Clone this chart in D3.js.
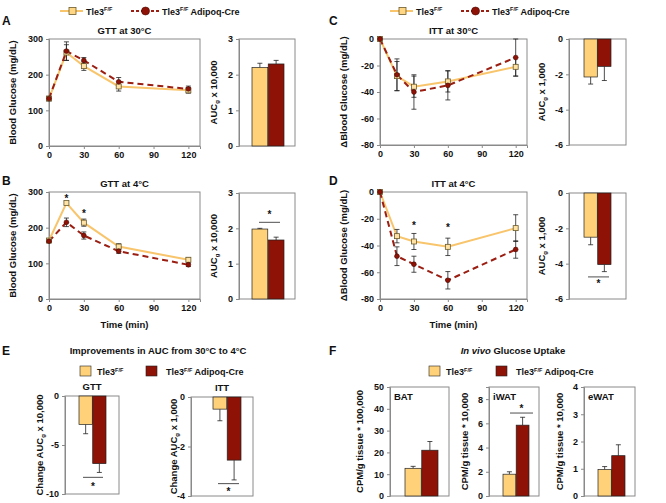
<!DOCTYPE html>
<html><head><meta charset="utf-8">
<script src="https://cdn.jsdelivr.net/npm/d3@7"></script>
<style>body{margin:0;background:#fff}text{font-family:"Liberation Sans",Arial,sans-serif;font-weight:bold;fill:#111}</style>
</head><body><script>
// ---------------- DATA ----------------
const times=[0,15,30,60,120];
const timeTicks=[0,30,60,90,120];
const groups=["Tle3F/F","Tle3F/F Adipoq-Cre"];

const gtt30Ctrl=[133,262,224,167,156], gtt30CtrlSe=[6,22,12,13,8];
const gtt30Ko=[133,266,240,180,160],   gtt30KoSe=[6,26,8,12,8];
const gtt4Ctrl=[164,269,214,147,110],  gtt4CtrlSe=[4,4,10,8,6];
const gtt4Ko=[162,215,178,134,96],     gtt4KoSe=[4,12,10,6,5];
const itt30Ctrl=[0,-28,-36,-32,-21],   itt30CtrlSe=[0,11,8,8,7];
const itt30Ko=[0,-27,-40,-35,-14],     itt30KoSe=[0,12,13,11,14];
const itt4Ctrl=[0,-33,-37,-41,-27],    itt4CtrlSe=[0,5,6,6.5,10];
const itt4Ko=[0,-48,-54,-66,-43],      itt4KoSe=[0,7,6,6.5,6.5];

const aucGtt30=[2.2,2.3],   aucGtt30Se=[0.12,0.1];
const aucGtt4=[1.98,1.67],  aucGtt4Se=[0.02,0.08];
const aucItt30=[-2.15,-1.55], aucItt30Se=[0.4,0.8];
const aucItt4=[-2.5,-4.05], aucItt4Se=[0.43,0.4];
const chgGtt=[-2.9,-6.9],   chgGttSe=[0.95,0.9];
const chgItt=[-0.49,-2.55], chgIttSe=[0.47,0.8];
const batVals=[12.7,21],    batSe=[0.9,4];
const iwatVals=[1.8,5.85],  iwatSe=[0.2,0.65];
const ewatVals=[0.97,1.48], ewatSe=[0.11,0.4];

// ---------------- STYLE ----------------
const W=666,H=503;
const YEL="#FFD27A", RED="#8E1206", YLINE="#F8C56C", RLINE="#9A1E12", FRAME="#8a8a8a";
const svg=d3.select("body").append("svg").attr("width",W).attr("height",H);

function styleAxis(a){
  a.select(".domain").attr("stroke",FRAME);
  a.selectAll(".tick line").attr("stroke",FRAME);
  a.selectAll(".tick text").style("font-size","9px").style("font-weight","bold").attr("fill","#111")
   .style("font-family",'"Liberation Sans",Arial,sans-serif');
}
function frame(g,x0,y0,x1,y1){
  g.append("rect").attr("x",x0).attr("y",y0).attr("width",x1-x0).attr("height",y1-y0)
   .attr("fill","none").attr("stroke",FRAME).attr("stroke-width",1);
}
function rotLabel(x,y,parts){
  const t=svg.append("text").attr("transform",`translate(${x},${y}) rotate(-90)`)
    .attr("text-anchor","middle").style("font-size","9.5px");
  parts.forEach(p=>{
    const s=t.append("tspan").text(p.t);
    if(p.sub){s.style("font-size","6px").attr("dy",2);} else if(p.after){s.attr("dy",-2);}
  });
  return t;
}
function tle(t,x,y,suffix){
  const tx=svg.append("text").attr("x",x).attr("y",y).style("font-size","9px");
  tx.append("tspan").text("Tle3");
  tx.append("tspan").text("F/F").style("font-size","5.5px").attr("dy",-3.5);
  if(suffix) tx.append("tspan").text(" "+suffix).attr("dy",3.5);
}
function star(x,y){svg.append("text").attr("x",x).attr("y",y).attr("text-anchor","middle").style("font-size","10px").text("*");}

function linePanel(o){
  const g=svg.append("g");
  const x=d3.scaleLinear().domain([0,130]).range([o.x0,o.x1]);
  const y=d3.scaleLinear().domain(o.yDomain).range([o.y1,o.y0]);
  frame(g,o.x0,o.y0,o.x1,o.y1);
  styleAxis(g.append("g").attr("transform",`translate(0,${o.y1})`)
    .call(d3.axisBottom(x).tickValues(timeTicks).tickSize(3).tickPadding(3).tickFormat(d=>d)));
  styleAxis(g.append("g").attr("transform",`translate(${o.x0},0)`)
    .call(d3.axisLeft(y).tickValues(o.yTicks).tickSize(3).tickPadding(3).tickFormat(d=>String(d))));
  const line=d3.line().x((d,i)=>x(times[i])).y(d=>y(d));
  g.append("path").datum(o.ctrl).attr("d",line).attr("fill","none").attr("stroke",YLINE).attr("stroke-width",2);
  g.append("path").datum(o.ko).attr("d",line).attr("fill","none").attr("stroke",RLINE).attr("stroke-width",2).attr("stroke-dasharray","6,4");
  [[o.ctrl,o.ctrlSe],[o.ko,o.koSe]].forEach(([v,s])=>{
    v.forEach((d,i)=>{
      if(!s[i]) return;
      const cx=x(times[i]);
      g.append("line").attr("x1",cx).attr("x2",cx).attr("y1",y(d-s[i])).attr("y2",y(d+s[i])).attr("stroke","#222").attr("stroke-width",0.8);
      [d-s[i],d+s[i]].forEach(e=>g.append("line").attr("x1",cx-2.5).attr("x2",cx+2.5).attr("y1",y(e)).attr("y2",y(e)).attr("stroke","#222").attr("stroke-width",0.8));
    });
  });
  g.selectAll(".sq").data(o.ctrl).enter().append("rect")
    .attr("x",(d,i)=>x(times[i])-2.5).attr("y",d=>y(d)-2.5).attr("width",5).attr("height",5)
    .attr("fill","#FFE3A6").attr("stroke","#6b5a2a").attr("stroke-width",0.8);
  g.selectAll(".ci").data(o.ko).enter().append("circle")
    .attr("cx",(d,i)=>x(times[i])).attr("cy",d=>y(d)).attr("r",2.4)
    .attr("fill",RED).attr("stroke","#4a0a04").attr("stroke-width",0.6);
  (o.stars||[]).forEach(s=>star(x(s[0]),y(s[1])+4));
  svg.append("text").attr("x",(o.x0+o.x1)/2).attr("y",o.y0-5).attr("text-anchor","middle").style("font-size","9.5px").text(o.title);
  if(o.xlabel) svg.append("text").attr("x",(o.x0+o.x1)/2).attr("y",o.y1+29).attr("text-anchor","middle").style("font-size","9.5px").text("Time (min)");
  svg.append("text").attr("transform",`translate(${o.x0-33},${(o.y0+o.y1)/2}) rotate(-90)`).attr("text-anchor","middle").style("font-size","9.5px").text(o.ylabel);
}

function barPanel(o){
  const g=svg.append("g");
  const y=d3.scaleLinear().domain(o.domain).range([o.y1,o.y0]);
  const xb=d3.scaleBand().domain(groups).range([o.bx0,o.bx1]).paddingInner(0.03);
  frame(g,o.x0,o.y0,o.x1,o.y1);
  styleAxis(g.append("g").attr("transform",`translate(${o.x0},0)`)
    .call(d3.axisLeft(y).tickValues(o.ticks).tickSize(3).tickPadding(3).tickFormat(d=>String(d))));
  groups.forEach((k,i)=>{
    const v=o.vals[i], s=o.se[i];
    const cx=xb(k)+xb.bandwidth()/2;
    const e=v>=0?v+s:v-s;
    g.append("line").attr("x1",cx).attr("x2",cx).attr("y1",y(v)).attr("y2",y(e)).attr("stroke","#222").attr("stroke-width",0.8);
    g.append("line").attr("x1",cx-2.5).attr("x2",cx+2.5).attr("y1",y(e)).attr("y2",y(e)).attr("stroke","#222").attr("stroke-width",0.8);
    g.append("rect").attr("x",xb(k)).attr("width",xb.bandwidth())
      .attr("y",Math.min(y(0),y(v))).attr("height",Math.abs(y(v)-y(0)))
      .attr("fill",i?RED:YEL).attr("stroke","#222").attr("stroke-width",0.7);
  });
  if(o.sig){
    g.append("line").attr("x1",o.sig.xa).attr("x2",o.sig.xb).attr("y1",y(o.sig.line)).attr("y2",y(o.sig.line)).attr("stroke","#222").attr("stroke-width",0.8);
    star((o.sig.xa+o.sig.xb)/2,y(o.sig.star)+4);
  }
  if(o.inner) svg.append("text").attr("x",o.x0+4).attr("y",o.y0+13).style("font-size","9.5px").text(o.inner);
  if(o.title) svg.append("text").attr("x",(o.x0+o.x1)/2).attr("y",o.y0-6).attr("text-anchor","middle").style("font-size","9.5px").text(o.title);
  rotLabel(o.lx,(o.y0+o.y1)/2,o.ylabel);
}

// ---------------- TOP LEGENDS ----------------
[0,330].forEach(dx=>{
  svg.append("line").attr("x1",60+dx).attr("x2",83+dx).attr("y1",11).attr("y2",11).attr("stroke",YLINE).attr("stroke-width",2);
  svg.append("rect").attr("x",69+dx).attr("y",7.5).attr("width",7).attr("height",7).attr("fill","#FFD684").attr("stroke","#6b5a2a").attr("stroke-width",0.8);
  tle(null,86+dx,14.5);
  svg.append("line").attr("x1",131+dx).attr("x2",159+dx).attr("y1",11).attr("y2",11).attr("stroke",RLINE).attr("stroke-width",2).attr("stroke-dasharray","3,2");
  svg.append("circle").attr("cx",145.5+dx).attr("cy",11).attr("r",4).attr("fill",RED).attr("stroke","#4a0a04").attr("stroke-width",0.6);
  tle(null,162+dx,14.5,"Adipoq-Cre");
});

// panel letters
[["A",2,25],["B",2,185],["C",329,25],["D",329,185],["E",2,355],["F",329,355]].forEach(([l,x,y])=>
  svg.append("text").attr("x",x).attr("y",y).style("font-size","12px").text(l));

// ---------------- LINE PANELS ----------------
linePanel({x0:49,x1:200,y0:39,y1:146,yDomain:[0,300],yTicks:[0,100,200,300],ctrl:gtt30Ctrl,ctrlSe:gtt30CtrlSe,ko:gtt30Ko,koSe:gtt30KoSe,title:"GTT at 30°C",ylabel:"Blood Glucose (mg/dL)"});
linePanel({x0:49,x1:200,y0:192,y1:299,yDomain:[0,300],yTicks:[0,100,200,300],ctrl:gtt4Ctrl,ctrlSe:gtt4CtrlSe,ko:gtt4Ko,koSe:gtt4KoSe,title:"GTT at 4°C",ylabel:"Blood Glucose (mg/dL)",xlabel:true,stars:[[15,284],[30,240]]});
linePanel({x0:380,x1:527,y0:39,y1:145,yDomain:[-80,0],yTicks:[-80,-60,-40,-20,0],ctrl:itt30Ctrl,ctrlSe:itt30CtrlSe,ko:itt30Ko,koSe:itt30KoSe,title:"ITT at 30°C",ylabel:"ΔBlood Glucose (mg/dL)"});
linePanel({x0:380,x1:527,y0:192,y1:299,yDomain:[-80,0],yTicks:[-80,-60,-40,-20,0],ctrl:itt4Ctrl,ctrlSe:itt4CtrlSe,ko:itt4Ko,koSe:itt4KoSe,title:"ITT at 4°C",ylabel:"ΔBlood Glucose (mg/dL)",xlabel:true,stars:[[30,-25],[60,-26]]});

// ---------------- AUC BAR PANELS ----------------
const auc10k=[{t:"AUC"},{t:"g",sub:true},{t:" x 10,000",after:true}];
const auc1k=[{t:"AUC"},{t:"g",sub:true},{t:" x 1,000",after:true}];
barPanel({x0:239,x1:295,y0:39,y1:146,bx0:252,bx1:284,domain:[0,3],ticks:[0,1,2,3],vals:aucGtt30,se:aucGtt30Se,lx:217,ylabel:auc10k});
barPanel({x0:239,x1:295,y0:193,y1:299,bx0:252,bx1:284,domain:[0,3],ticks:[0,1,2,3],vals:aucGtt4,se:aucGtt4Se,lx:217,ylabel:auc10k,sig:{xa:259,xb:280,line:2.17,star:2.4}});
barPanel({x0:569,x1:626,y0:39,y1:145,bx0:584,bx1:611,domain:[-6,0],ticks:[-6,-4,-2,0],vals:aucItt30,se:aucItt30Se,lx:545,ylabel:auc1k});
barPanel({x0:569,x1:626,y0:193,y1:299,bx0:584,bx1:611,domain:[-6,0],ticks:[-6,-4,-2,0],vals:aucItt4,se:aucItt4Se,lx:545,ylabel:auc1k,sig:{xa:588,xb:609,line:-4.75,star:-5.1}});

// ---------------- E ----------------
svg.append("text").attr("x",158).attr("y",354).attr("text-anchor","middle").style("font-size","9.5px").text("Improvements in AUC from 30°C to 4°C");
function sqLegend(x1,t1x,x2,t2x){
  svg.append("rect").attr("x",x1).attr("y",366).attr("width",11).attr("height",10).attr("fill",YEL).attr("stroke","#222").attr("stroke-width",0.6);
  tle(null,t1x,375);
  svg.append("rect").attr("x",x2).attr("y",366).attr("width",11).attr("height",10).attr("fill",RED).attr("stroke","#222").attr("stroke-width",0.6);
  tle(null,t2x,375,"Adipoq-Cre");
}
sqLegend(80,97,146,166);
const chg10k=[{t:"Change AUC"},{t:"g",sub:true},{t:" x 10,000",after:true}];
const chg1k=[{t:"Change AUC"},{t:"g",sub:true},{t:" x 1,000",after:true}];
barPanel({x0:65,x1:119,y0:396,y1:494,bx0:79,bx1:106,domain:[-10,0],ticks:[-10,-5,0],vals:chgGtt,se:chgGttSe,lx:43,ylabel:chg10k,title:"GTT",sig:{xa:83,xb:103,line:-8.3,star:-9.2}});
barPanel({x0:191,x1:253,y0:397,y1:496,bx0:213,bx1:241,domain:[-4,0],ticks:[-4,-2,0],vals:chgItt,se:chgIttSe,lx:177,ylabel:chg1k,title:"ITT",sig:{xa:218,xb:239,line:-3.5,star:-3.8}});

// ---------------- F ----------------
const ft=svg.append("text").attr("x",513).attr("y",354).attr("text-anchor","middle").style("font-size","9.5px");
ft.append("tspan").text("In vivo").style("font-style","italic");
ft.append("tspan").text(" Glucose Uptake");
sqLegend(429,446,496,516);
barPanel({x0:390,x1:449,y0:387,y1:496,bx0:405,bx1:438,domain:[0,50],ticks:[0,10,20,30,40,50],vals:batVals,se:batSe,lx:363,ylabel:[{t:"CPM/g tissue * 100,000"}],inner:"BAT"});
barPanel({x0:489,x1:539,y0:387,y1:496,bx0:503,bx1:529,domain:[0,9],ticks:[0,2,4,6,8],vals:iwatVals,se:iwatSe,lx:468,ylabel:[{t:"CPM/g tissue * 10,000"}],inner:"iWAT",sig:{xa:510,xb:533,line:6.85,star:7.25}});
barPanel({x0:584,x1:635,y0:387,y1:496,bx0:598,bx1:625,domain:[0,4],ticks:[0,1,2,3,4],vals:ewatVals,se:ewatSe,lx:563,ylabel:[{t:"CPM/g tissue * 10,000"}],inner:"eWAT"});
</script></body></html>
